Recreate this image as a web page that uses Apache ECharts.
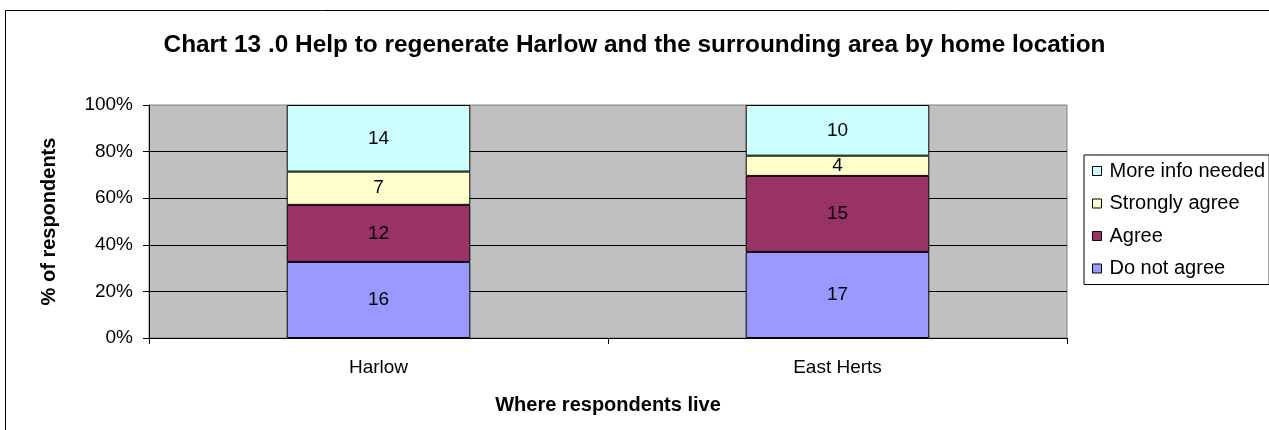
<!DOCTYPE html>
<html>
<head>
<meta charset="utf-8">
<script src="https://cdn.jsdelivr.net/npm/echarts@6/dist/echarts.min.js"></script>
<style>
  html, body { margin: 0; padding: 0; background: #fff; }
  #chart { width: 1269px; height: 430px; }
</style>
</head>
<body>
<div id="chart"></div>
<script>
// categories and counts
const locations = ['Harlow', 'East Herts'];
const seriesNames = ['Do not agree', 'Agree', 'Strongly agree', 'More info needed'];
const doNotAgree = [16, 17];
const agree = [12, 15];
const stronglyAgree = [7, 4];
const moreInfo = [14, 10];
const yTicks = [0, 20, 40, 60, 80, 100];

const colors = ['#9999FF', '#993366', '#FFFFCC', '#CCFFFF'];
const counts = [doNotAgree, agree, stronglyAgree, moreInfo];

// totals per location, bars are drawn as percent of total
const totals = locations.map((_, i) => counts.reduce((s, arr) => s + arr[i], 0));

const font = 'Liberation Sans, Arial, sans-serif';

const series = seriesNames.map((name, k) => ({
  name: name,
  type: 'bar',
  stack: 'all',
  barWidth: '40%',
  data: counts[k].map((v, i) => ({ value: v / totals[i] * 100, count: v })),
  itemStyle: { color: colors[k], borderColor: '#000', borderWidth: 1 },
  label: {
    show: true,
    position: 'inside',
    color: '#000',
    fontFamily: font,
    fontSize: 19,
    formatter: p => p.data.count
  }
}));

const chart = echarts.init(document.getElementById('chart'));
chart.setOption({
  animation: false,
  title: {
    text: 'Chart 13 .0 Help to regenerate Harlow and the surrounding area by home location',
    left: 'center',
    top: 28,
    textStyle: { fontFamily: font, fontSize: 24.4, fontWeight: 'bold', color: '#000' }
  },
  graphic: [{
    type: 'rect',
    shape: { x: 5.5, y: 10.5, width: 1280, height: 440 },
    style: { fill: null, stroke: '#000', lineWidth: 1 },
    silent: true
  }],
  legend: {
    orient: 'vertical',
    left: 1084,
    top: 155,
    data: seriesNames.slice().reverse(),
    icon: 'rect',
    itemWidth: 9,
    itemHeight: 9,
    itemGap: 12.5,
    padding: [6, 4, 6, 8],
    borderColor: '#000',
    borderWidth: 1,
    backgroundColor: '#fff',
    textStyle: { fontFamily: font, fontSize: 20, color: '#000', padding: [0, 0, 0, 3] },
    itemStyle: { borderColor: '#000', borderWidth: 1 }
  },
  grid: {
    left: 149,
    top: 105,
    right: 202,
    bottom: 92,
    show: true,
    backgroundColor: '#C0C0C0',
    borderColor: '#808080',
    borderWidth: 1
  },
  xAxis: {
    type: 'category',
    data: locations,
    name: 'Where respondents live',
    nameLocation: 'middle',
    nameGap: 57,
    nameTextStyle: { fontFamily: font, fontSize: 20, fontWeight: 'bold', color: '#000' },
    axisLine: { lineStyle: { color: '#000' } },
    axisTick: { show: true, length: 6, lineStyle: { color: '#000' } },
    axisLabel: { fontFamily: font, fontSize: 19, color: '#000', margin: 20 }
  },
  yAxis: {
    type: 'value',
    min: yTicks[0],
    max: yTicks[yTicks.length - 1],
    interval: 20,
    name: '% of respondents',
    nameLocation: 'middle',
    nameGap: 90,
    nameTextStyle: { fontFamily: font, fontSize: 20, fontWeight: 'bold', color: '#000' },
    axisLine: { show: true, lineStyle: { color: '#000' } },
    axisTick: { show: true, length: 6, lineStyle: { color: '#000' } },
    axisLabel: { fontFamily: font, fontSize: 19, color: '#000', margin: 16, formatter: '{value}%' },
    splitLine: { show: true, showMaxLine: false, lineStyle: { color: '#000', width: 1 } }
  },
  series: series
});
</script>
</body>
</html>
